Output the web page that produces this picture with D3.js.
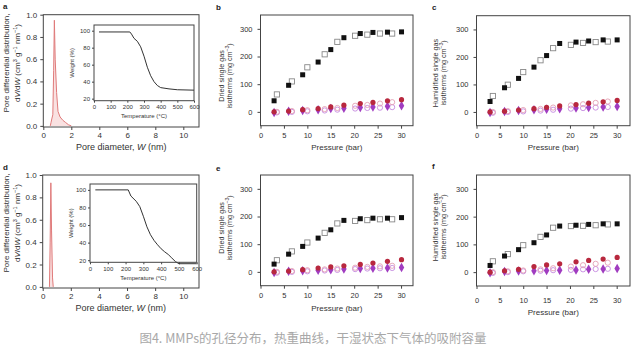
<!DOCTYPE html>
<html>
<head>
<meta charset="utf-8">
<script src="https://cdn.jsdelivr.net/npm/d3@7"></script>
<style>
  body { margin: 0; background: #fff; }
  svg { font-family: "Liberation Sans", Arial, sans-serif; }
  .tick text { fill: #333; }
</style>
</head>
<body>
<div id="chart-area"></div>
<script>
// ---- data ----
// pore distribution curves (W nm, dV/dW)
var poreA = [[0.5, 0], [0.55, 0.03], [0.62, 0.07], [0.68, 0.1], [0.74, 0.5], [0.79, 0.95], [0.85, 0.6], [0.95, 0.3], [1.05, 0.13], [1.2, 0.08], [1.4, 0.05], [1.6, 0.03], [1.8, 0.01], [2.0, 0]];
var poreD = [[0.48, 0], [0.53, 0.4], [0.58, 0.93], [0.63, 0.5], [0.7, 0.08], [0.75, 0]];
// TGA curves (T degC, weight %)
var tgaA = [[30, 98.5], [215, 98.5], [225, 96], [240, 91], [260, 87.5], [280, 81], [300, 70], [320, 57], [340, 47], [360, 40], [380, 35.5], [400, 33], [450, 31.5], [500, 30.5], [600, 30]];
var tgaD = [[30, 100], [215, 100], [230, 93], [260, 87], [280, 81], [300, 70], [320, 58], [340, 49], [360, 42.5], [380, 37.5], [400, 33], [420, 29.5], [440, 26.5], [460, 22.5], [480, 18.5], [500, 16], [600, 16]];

// pressures (bar)
var pFilled = [2.9, 6, 9, 12.3, 15, 17.8, 21.3, 24, 27.1, 30.1];
var pOpen = [3.5, 6.7, 10, 13.7, 16.4, 20.2, 22.8, 25.5, 28.1];

// b: dried
var bSqFilled = [40, 96, 134, 180, 225, 268, 283, 287, 288, 289];
var bSqOpen = [63, 110, 161, 208, 253, 275, 279, 283, 283];
var bCirFilled = [0, 3, 8, 12, 18, 24, 30, 34, 40, 44];
var bCirOpen = [0, 3, 6, 10, 14, 22, 25, 30, 35];
var bDiaFilled = [-2, 2, 5, 8, 12, 13, 16, 18, 20, 22];
var bLavOpen = [-2, 0, 2, 5, 8, 12, 14, 15, 17];
// c: humidified
var cSqFilled = [38, 88, 122, 163, 205, 249, 254, 258, 262, 262];
var cSqOpen = [58, 99, 145, 188, 232, 244, 251, 254, 256];
var cCirFilled = [0, 3, 7, 12, 17, 22, 27, 32, 37, 42];
var cCirOpen = [0, 3, 7, 11, 16, 24, 28, 33, 38];
var cDiaFilled = [-2, 2, 5, 8, 10, 12, 14, 16, 18, 20];
var cLavOpen = [-3, 0, 2, 5, 8, 12, 14, 16, 18];
// e: dried
var eSqFilled = [28, 64, 92, 122, 152, 186, 192, 194, 194, 196];
var eSqOpen = [42, 74, 106, 141, 175, 184, 187, 190, 190];
var eCirFilled = [0, 3, 8, 14, 18, 22, 27, 32, 38, 44];
var eCirOpen = [0, 3, 6, 9, 12, 15, 18, 20, 22];
var eDiaFilled = [-2, 2, 4, 6, 8, 10, 12, 13, 14, 16];
var eLavOpen = [-3, 0, 2, 5, 7, 10, 12, 13, 14];
// f: humidified
var fSqFilled = [24, 58, 81, 106, 134, 166, 169, 172, 174, 174];
var fSqOpen = [39, 65, 97, 127, 160, 166, 167, 169, 172];
var fCirFilled = [0, 5, 10, 20, 26, 30, 37, 42, 47, 53];
var fCirOpen = [0, 3, 6, 10, 14, 20, 25, 30, 34];
var fDiaFilled = [-2, 2, 4, 5, 6, 7, 8, 10, 11, 13];
var fLavOpen = [-3, 0, 3, 5, 7, 8, 10, 11, 12];

var poreTicks = [0, 2, 4, 6, 8, 10];
var poreYTicks = [0, 0.2, 0.4, 0.6, 0.8, 1.0];
var presTicks = [0, 5, 10, 15, 20, 25, 30];
var isoYTicks = [0, 100, 200, 300];
var tgaXTicks = [0, 100, 200, 300, 400, 500, 600];
var tgaYTicks = [20, 40, 60, 80, 100];

var caption = "图4. MMPs的孔径分布，热重曲线，干湿状态下气体的吸附容量";

var svg = d3.select("#chart-area").append("svg")
  .attr("width", 632).attr("height", 350);

var ink = "#333";

function frame(g, x, y) {
  g.append("rect")
    .attr("x", x.range()[0]).attr("y", y.range()[1])
    .attr("width", x.range()[1] - x.range()[0])
    .attr("height", y.range()[0] - y.range()[1])
    .attr("fill", "none").attr("stroke", "#444").attr("stroke-width", 1);
}

function styleAxis(ax, fs) {
  ax.select(".domain").remove();
  ax.selectAll("line").attr("stroke", "#444");
  ax.selectAll("text").style("font-size", fs + "px");
}

// ---- pore panel with TGA inset ----
function porePanel(o) {
  var g = svg.append("g");
  var x = d3.scaleLinear().domain([0, 11.12]).range([o.x0, o.x1]);
  var y = d3.scaleLinear().domain([-0.01, 1]).range([o.y1, o.y0]);

  var xa = g.append("g").attr("transform", "translate(0," + o.y1 + ")")
    .call(d3.axisBottom(x).tickValues(poreTicks).tickSize(3).tickPadding(2.5));
  styleAxis(xa, 8);
  var ya = g.append("g").attr("transform", "translate(" + o.x0 + ",0)")
    .call(d3.axisLeft(y).tickValues(poreYTicks).tickSize(3).tickPadding(3).tickFormat(d3.format(".1f")));
  styleAxis(ya, 8);

  g.append("path").datum(o.pore)
    .attr("d", d3.area().x(d => x(d[0])).y0(y(0)).y1(d => y(d[1])))
    .attr("fill", "#f8dada").attr("opacity", 0.8);
  g.append("path").datum(o.pore)
    .attr("d", d3.line().x(d => x(d[0])).y(d => y(d[1])))
    .attr("fill", "none").attr("stroke", "#e07a7a").attr("stroke-width", 1);
  frame(g, x, y);

  var xl = g.append("text").attr("x", (o.x0 + o.x1) / 2).attr("y", o.y1 + 22.5)
    .attr("text-anchor", "middle").style("font-size", "9px").attr("fill", ink);
  xl.append("tspan").text("Pore diameter, ");
  xl.append("tspan").style("font-style", "italic").text("W");
  xl.append("tspan").text(" (nm)");

  var cy = o.cy;
  g.append("text").attr("transform", "translate(9," + cy + ") rotate(-90)")
    .attr("text-anchor", "middle").style("font-size", "8px").attr("fill", ink)
    .text("Pore differential distribution,");
  var l2 = g.append("text").attr("transform", "translate(19.5," + cy + ") rotate(-90)")
    .attr("text-anchor", "middle").style("font-size", "8px").attr("fill", ink);
  l2.append("tspan").text("d");
  l2.append("tspan").style("font-style", "italic").text("V");
  l2.append("tspan").text("/d");
  l2.append("tspan").style("font-style", "italic").text("W");
  l2.append("tspan").text(" (cm");
  l2.append("tspan").attr("dy", -3).style("font-size", "5.5px").text("3");
  l2.append("tspan").attr("dy", 3).text(" g");
  l2.append("tspan").attr("dy", -3).style("font-size", "5.5px").text("−1");
  l2.append("tspan").attr("dy", 3).text(" nm");
  l2.append("tspan").attr("dy", -3).style("font-size", "5.5px").text("−1");
  l2.append("tspan").attr("dy", 3).text(")");

  g.append("text").attr("x", o.lx).attr("y", o.ly).style("font-size", "8px")
    .style("font-weight", "bold").attr("fill", "#222").text(o.label);

  // inset
  var ix = d3.scaleLinear().domain([0, 600]).range([o.ix0, o.ix1]);
  var iy = d3.scaleLinear().domain([17.6, 106.7]).range([o.iy1, o.iy0]);
  g.append("rect").attr("x", o.ix0).attr("y", o.iy0)
    .attr("width", o.ix1 - o.ix0).attr("height", o.iy1 - o.iy0).attr("fill", "#fff");
  var ixa = g.append("g").attr("transform", "translate(0," + o.iy1 + ")")
    .call(d3.axisBottom(ix).tickValues(tgaXTicks).tickSize(2).tickPadding(2));
  styleAxis(ixa, 6);
  var iya = g.append("g").attr("transform", "translate(" + o.ix0 + ",0)")
    .call(d3.axisLeft(iy).tickValues(tgaYTicks).tickSize(2).tickPadding(2));
  styleAxis(iya, 6);
  g.append("path").datum(o.tga)
    .attr("d", d3.line().x(d => ix(d[0])).y(d => iy(d[1])))
    .attr("fill", "none").attr("stroke", "#333").attr("stroke-width", 1);
  frame(g, ix, iy);
  g.append("text").attr("x", (o.ix0 + o.ix1) / 2).attr("y", o.iy1 + 17.5)
    .attr("text-anchor", "middle").style("font-size", "6px").attr("fill", ink)
    .text("Temperature (°C)");
  g.append("text").attr("transform", "translate(" + o.wx + "," + ((o.iy0 + o.iy1) / 2) + ") rotate(-90)")
    .attr("text-anchor", "middle").style("font-size", "6px").attr("fill", ink)
    .text("Weight (%)");
}

porePanel({label: "a", lx: 3, ly: 9, x0: 43.3, x1: 199, y0: 14.7, y1: 127, cy: 63,
  ix0: 94, ix1: 194, iy0: 25, iy1: 100.7, wx: 74, pore: poreA, tga: tgaA});
porePanel({label: "d", lx: 3, ly: 170, x0: 42.7, x1: 199, y0: 175, y1: 288, cy: 223,
  ix0: 90, ix1: 196.7, iy0: 184, iy1: 262.3, wx: 73, pore: poreD, tga: tgaD});

// ---- isotherm panels ----
function isoPanel(o) {
  var g = svg.append("g");
  var x = d3.scaleLinear().domain([0, o.xmax]).range([o.x0, o.x1]);
  var y = d3.scaleLinear().domain([-50, 350]).range([o.y1, o.y0]);

  var xa = g.append("g").attr("transform", "translate(0," + o.y1 + ")")
    .call(d3.axisBottom(x).tickValues(presTicks).tickSize(3).tickPadding(o.xpad));
  styleAxis(xa, 7.5);
  var ya = g.append("g").attr("transform", "translate(" + o.x0 + ",0)")
    .call(d3.axisLeft(y).tickValues(isoYTicks).tickSize(3).tickPadding(5));
  styleAxis(ya, 7.5);
  frame(g, x, y);

  function pts(px, vals) { return vals.map((v, i) => [px[i], v]); }

  // open lavender circles
  g.selectAll(null).data(pts(pOpen, o.lav)).enter().append("circle")
    .attr("cx", d => x(d[0])).attr("cy", d => y(d[1])).attr("r", 2.6)
    .attr("fill", "none").attr("stroke", "#c58ae0").attr("stroke-width", 0.9);
  // open pink circles
  g.selectAll(null).data(pts(pOpen, o.cirO)).enter().append("circle")
    .attr("cx", d => x(d[0])).attr("cy", d => y(d[1])).attr("r", 2.6)
    .attr("fill", "none").attr("stroke", "#e4a0b4").attr("stroke-width", 0.9);
  // filled purple diamonds
  g.selectAll(null).data(pts(pFilled, o.dia)).enter().append("path")
    .attr("transform", d => "translate(" + x(d[0]) + "," + y(d[1]) + ")")
    .attr("d", d3.symbol().type(d3.symbolDiamond).size(26))
    .attr("fill", "#a03cc0");
  // filled red circles
  g.selectAll(null).data(pts(pFilled, o.cirF)).enter().append("circle")
    .attr("cx", d => x(d[0])).attr("cy", d => y(d[1])).attr("r", 2.6)
    .attr("fill", "#b8283e");
  // open squares
  g.selectAll(null).data(pts(pOpen, o.sqO)).enter().append("rect")
    .attr("x", d => x(d[0]) - 2.6).attr("y", d => y(d[1]) - 2.6)
    .attr("width", 5.2).attr("height", 5.2)
    .attr("fill", "#fff").attr("stroke", "#888").attr("stroke-width", 0.9);
  // filled squares
  g.selectAll(null).data(pts(pFilled, o.sqF)).enter().append("rect")
    .attr("x", d => x(d[0]) - 2.5).attr("y", d => y(d[1]) - 2.5)
    .attr("width", 5).attr("height", 5).attr("fill", "#111");

  g.append("text").attr("x", (o.x0 + o.x1) / 2).attr("y", o.y1 + o.tdy)
    .attr("text-anchor", "middle").style("font-size", "8px").attr("fill", ink)
    .text("Pressure (bar)");

  var cy = o.cy;
  g.append("text").attr("transform", "translate(" + o.t1 + "," + cy + ") rotate(-90)")
    .attr("text-anchor", "middle").style("font-size", "7.2px").attr("fill", ink)
    .text(o.title);
  var l2 = g.append("text").attr("transform", "translate(" + (o.t1 + 8.5) + "," + cy + ") rotate(-90)")
    .attr("text-anchor", "middle").style("font-size", "7.2px").attr("fill", ink);
  l2.append("tspan").text("isotherms (mg cm");
  l2.append("tspan").attr("dy", -3).style("font-size", "5px").text("−3");
  l2.append("tspan").attr("dy", 3).text(")");

  g.append("text").attr("x", o.lx).attr("y", o.ly).style("font-size", "8px")
    .style("font-weight", "bold").attr("fill", "#222").text(o.label);
}

isoPanel({label: "b", lx: 216, ly: 10, x0: 260.5, x1: 413, y0: 15, y1: 125.7, xmax: 32.55,
  t1: 223.5, cy: 76, xpad: 4, tdy: 24, title: "Dried single gas",
  sqF: bSqFilled, sqO: bSqOpen, cirF: bCirFilled, cirO: bCirOpen, dia: bDiaFilled, lav: bLavOpen});
isoPanel({label: "c", lx: 432, ly: 10, x0: 476.5, x1: 630, y0: 15.7, y1: 125.7, xmax: 32.85,
  t1: 437.5, cy: 73, xpad: 4, tdy: 24, title: "Humidified single gas",
  sqF: cSqFilled, sqO: cSqOpen, cirF: cCirFilled, cirO: cCirOpen, dia: cDiaFilled, lav: cLavOpen});
isoPanel({label: "e", lx: 216, ly: 171, x0: 260.5, x1: 413, y0: 175, y1: 285.7, xmax: 32.55,
  t1: 223.5, cy: 228, xpad: 4, tdy: 25, title: "Dried single gas",
  sqF: eSqFilled, sqO: eSqOpen, cirF: eCirFilled, cirO: eCirOpen, dia: eDiaFilled, lav: eLavOpen});
isoPanel({label: "f", lx: 432, ly: 169, x0: 476.5, x1: 630, y0: 175, y1: 286, xmax: 32.85,
  t1: 437.5, cy: 227, xpad: 9, tdy: 28.5, title: "Humidified single gas",
  sqF: fSqFilled, sqO: fSqOpen, cirF: fCirFilled, cirO: fCirOpen, dia: fDiaFilled, lav: fLavOpen});

// caption
svg.append("text").attr("x", 313).attr("y", 343)
  .attr("text-anchor", "middle")
  .style("font-family", "'Noto Sans CJK SC', sans-serif")
  .style("font-size", "12.5px").attr("fill", "#a8a8a8")
  .text(caption);
</script>
</body>
</html>
